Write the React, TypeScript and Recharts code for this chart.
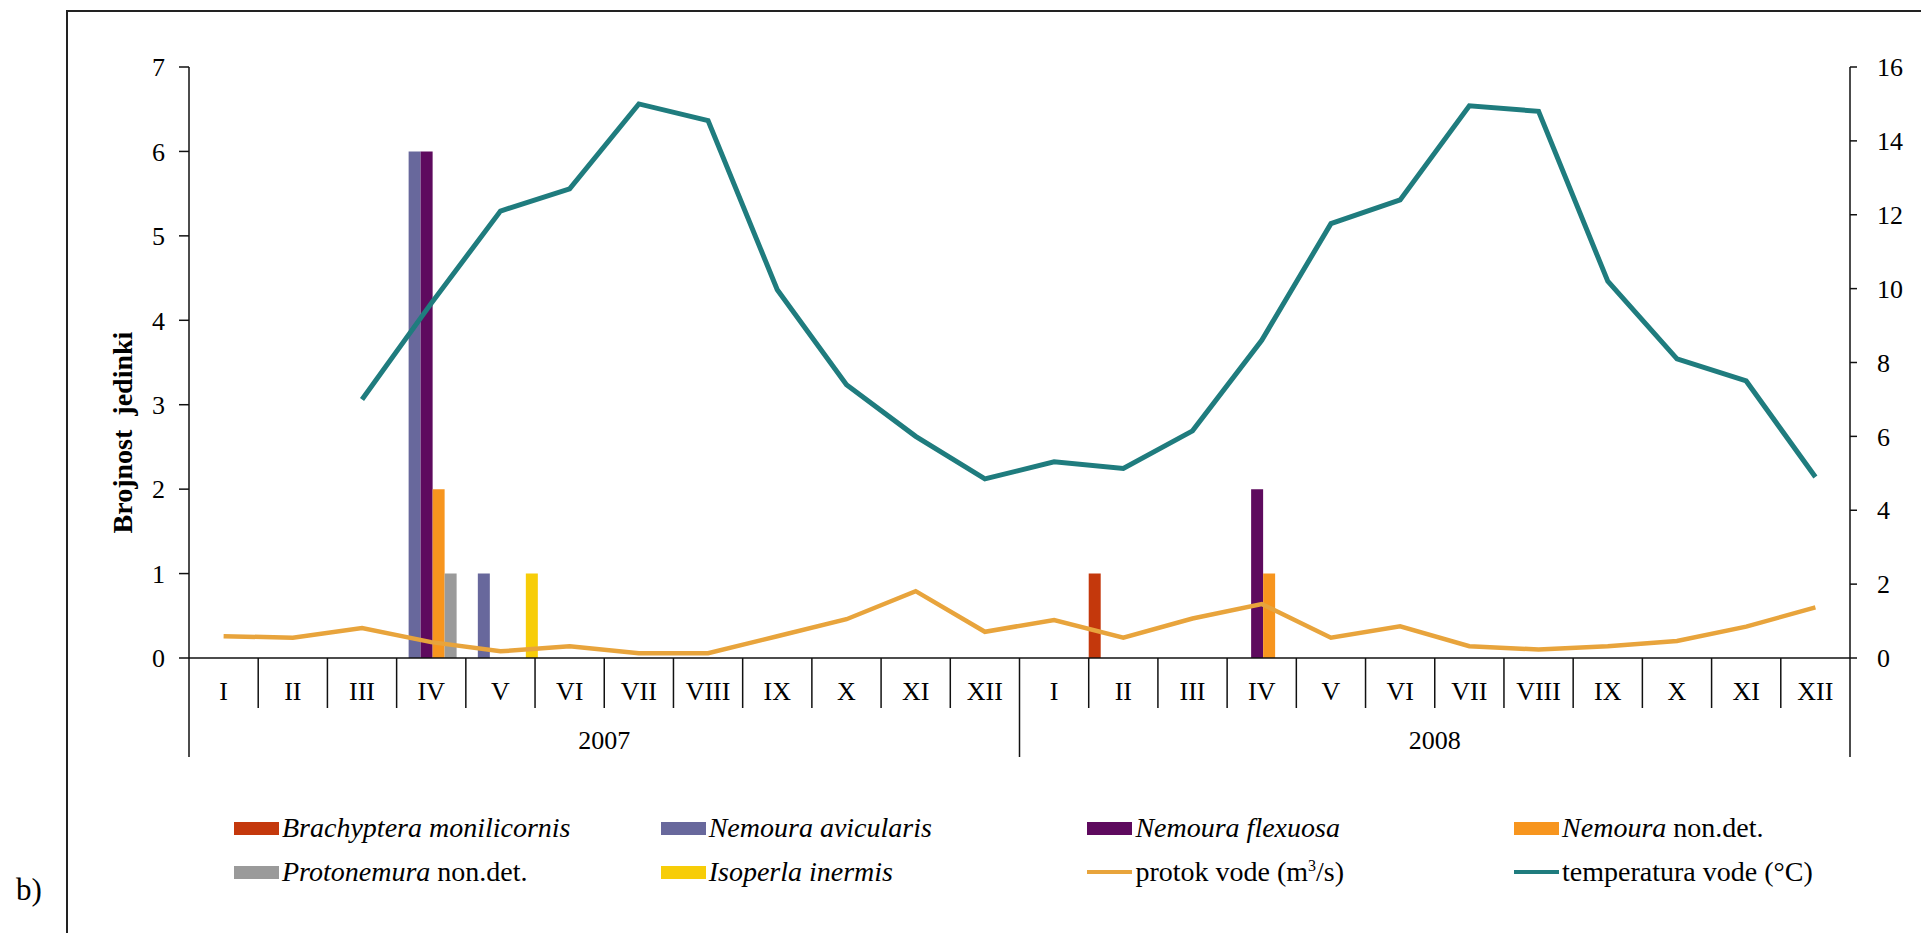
import React from 'react';
import { ComposedChart, Bar, Line, XAxis, YAxis } from 'recharts';

// months of the two sampling years
const MONTHS = ['I', 'II', 'III', 'IV', 'V', 'VI', 'VII', 'VIII', 'IX', 'X', 'XI', 'XII',
  'I', 'II', 'III', 'IV', 'V', 'VI', 'VII', 'VIII', 'IX', 'X', 'XI', 'XII'];
const YEARS = ['2007', '2008'];

// number of individuals per species
const BRACHYPTERA = [null, null, null, null, null, null, null, null, null, null, null, null,
  null, 1, null, null, null, null, null, null, null, null, null, null];
const N_AVICULARIS = [null, null, null, 6, 1, null, null, null, null, null, null, null,
  null, null, null, null, null, null, null, null, null, null, null, null];
const N_FLEXUOSA = [null, null, null, 6, null, null, null, null, null, null, null, null,
  null, null, null, 2, null, null, null, null, null, null, null, null];
const NEMOURA_ND = [null, null, null, 2, null, null, null, null, null, null, null, null,
  null, null, null, 1, null, null, null, null, null, null, null, null];
const PROTONEMURA_ND = [null, null, null, 1, null, null, null, null, null, null, null, null,
  null, null, null, null, null, null, null, null, null, null, null, null];
const ISOPERLA = [null, null, null, null, 1, null, null, null, null, null, null, null,
  null, null, null, null, null, null, null, null, null, null, null, null];

// water discharge (m3/s) and water temperature (°C), right axis
const FLOW = [0.59, 0.55, 0.81, 0.43, 0.18, 0.32, 0.13, 0.13, 0.59, 1.05, 1.81, 0.71,
  1.03, 0.55, 1.07, 1.46, 0.55, 0.86, 0.32, 0.23, 0.32, 0.46, 0.85, 1.37];
const TEMPERATURE = [null, null, 7.0, 9.6, 12.1, 12.7, 15.0, 14.55, 9.97, 7.4, 6.0, 4.85,
  5.31, 5.13, 6.15, 8.6, 11.76, 12.4, 14.95, 14.8, 10.2, 8.1, 7.5, 4.9];

const LEFT_TICKS = [0, 1, 2, 3, 4, 5, 6, 7];
const RIGHT_TICKS = [0, 2, 4, 6, 8, 10, 12, 14, 16];

const BAR_KEYS = ['brachyptera', 'avicularis', 'flexuosa', 'nemouraNd', 'protonemuraNd', 'isoperla'];
// [italic part, roman part]
const BAR_NAMES = [
  ['Brachyptera monilicornis', ''],
  ['Nemoura avicularis', ''],
  ['Nemoura flexuosa', ''],
  ['Nemoura', ' non.det.'],
  ['Protonemura', ' non.det.'],
  ['Isoperla inermis', ''],
];
const LINE_NAMES = ['protok vode (m³/s)', 'temperatura vode (°C)'];

const BAR_COLORS = ['#C4380C', '#68689C', '#5E0A5E', '#F7951E', '#9A9A9A', '#F7CD08'];
const FLOW_COLOR = '#E8A43C';
const TEMP_COLOR = '#1F7C7E';

const FONT = '"Liberation Serif", "Times New Roman", serif';

const data = MONTHS.map((m, i) => ({
  month: m,
  brachyptera: BRACHYPTERA[i],
  avicularis: N_AVICULARIS[i],
  flexuosa: N_FLEXUOSA[i],
  nemouraNd: NEMOURA_ND[i],
  protonemuraNd: PROTONEMURA_ND[i],
  isoperla: ISOPERLA[i],
  flow: FLOW[i],
  temperature: TEMPERATURE[i],
}));

const W = 1921;
const H = 933;
const MARGIN = { top: 67, right: 11, bottom: 175, left: 109 };
const LEFT_AXIS_W = 80;
const RIGHT_AXIS_W = 60;
const PLOT_W = W - MARGIN.left - MARGIN.right - LEFT_AXIS_W - RIGHT_AXIS_W;
const HALF_BAND = PLOT_W / MONTHS.length / 2;

const MonthTick = (props: any) => {
  const { x, y, payload, index } = props;
  const left = x - HALF_BAND;
  const yearStart = index % 12 === 0;
  return (
    <g>
      <line x1={left} y1={y} x2={left} y2={y + (yearStart ? 99 : 50)} stroke="#111" strokeWidth={1.5} />
      {index === MONTHS.length - 1 && (
        <line x1={x + HALF_BAND} y1={y} x2={x + HALF_BAND} y2={y + 99} stroke="#111" strokeWidth={1.5} />
      )}
      <text x={x} y={y + 42} textAnchor="middle" fontSize={26} fontFamily={FONT} fill="#000">
        {payload.value}
      </text>
      {index % 12 === 5 && (
        <text x={x + HALF_BAND} y={y + 91} textAnchor="middle" fontSize={26} fontFamily={FONT} fill="#000">
          {YEARS[Math.floor(index / 12)]}
        </text>
      )}
    </g>
  );
};

const AxisTitle = (props: any) => {
  const { viewBox } = props;
  const cx = viewBox.x + 13;
  const cy = viewBox.y + viewBox.height / 2 + 70;
  return (
    <text
      x={cx}
      y={cy}
      transform={`rotate(-90, ${cx}, ${cy})`}
      textAnchor="middle"
      dominantBaseline="central"
      fontSize={28}
      fontWeight="bold"
      fontFamily={FONT}
      fill="#000"
      style={{ whiteSpace: 'pre' }}
    >
      {'Brojnost\u00A0\u00A0jedinki'}
    </text>
  );
};

const LegendItem: React.FC<{ col: number; row: number; color: string; line?: boolean; children: React.ReactNode }> = ({
  col,
  row,
  color,
  line,
  children,
}) => (
  <div
    style={{
      position: 'absolute',
      left: 234 + col * 426.7,
      top: (row === 0 ? 828 : 872) - 20,
      height: 40,
      display: 'flex',
      alignItems: 'center',
      whiteSpace: 'nowrap',
    }}
  >
    <div style={{ width: 45, height: line ? 4 : 13, background: color }} />
    <span style={{ marginLeft: 3, fontFamily: FONT, fontSize: 28, lineHeight: 1, color: '#000' }}>{children}</span>
  </div>
);

const App: React.FC = () => {
  const legendEntries = [
    ...BAR_NAMES.map((n, i) => ({
      label: (
        <>
          <i>{n[0]}</i>
          {n[1]}
        </>
      ),
      color: BAR_COLORS[i],
      line: false,
    })),
    {
      label: (
        <>
          {LINE_NAMES[0].split('³')[0]}
          <sup style={{ fontSize: 16 }}>3</sup>
          {LINE_NAMES[0].split('³')[1]}
        </>
      ),
      color: FLOW_COLOR,
      line: true,
    },
    { label: <>{LINE_NAMES[1]}</>, color: TEMP_COLOR, line: true },
  ];

  return (
    <div style={{ position: 'absolute', left: 0, top: 0, width: W, height: H, background: '#fff', overflow: 'hidden' }}>
      <div
        style={{
          position: 'absolute',
          left: 66,
          top: 10,
          width: W - 66,
          height: H - 10,
          borderLeft: '2px solid #222',
          borderTop: '2px solid #222',
          boxSizing: 'border-box',
        }}
      />
      <div style={{ position: 'absolute', left: 16, top: 874, fontFamily: FONT, fontSize: 31, lineHeight: 1 }}>b)</div>

      <div style={{ position: 'absolute', left: 0, top: 0 }}>
        <ComposedChart width={W} height={H} data={data} margin={MARGIN} barCategoryGap={0} barGap={0}>
          <XAxis
            dataKey="month"
            interval={0}
            height={100}
            tickLine={false}
            tickSize={0}
            tickMargin={0}
            axisLine={{ stroke: '#111', strokeWidth: 1.5 }}
            tick={<MonthTick />}
          />
          <YAxis
            yAxisId="left"
            width={LEFT_AXIS_W}
            domain={[0, 7]}
            ticks={LEFT_TICKS}
            tickSize={10}
            tickMargin={14}
            axisLine={{ stroke: '#111', strokeWidth: 1.5 }}
            tickLine={{ stroke: '#111', strokeWidth: 1.5 }}
            tick={{ fill: '#000', fontSize: 26, fontFamily: FONT }}
            label={<AxisTitle />}
          />
          <YAxis
            yAxisId="right"
            orientation="right"
            width={RIGHT_AXIS_W}
            domain={[0, 16]}
            ticks={RIGHT_TICKS}
            tickSize={7}
            tickMargin={20}
            axisLine={{ stroke: '#111', strokeWidth: 1.5 }}
            tickLine={{ stroke: '#111', strokeWidth: 1.5 }}
            tick={{ fill: '#000', fontSize: 26, fontFamily: FONT, textAnchor: 'start' }}
          />
          {BAR_KEYS.map((k, i) => (
            <Bar key={k} yAxisId="left" dataKey={k} fill={BAR_COLORS[i]} isAnimationActive={false} />
          ))}
          <Line
            yAxisId="right"
            type="linear"
            dataKey="flow"
            stroke={FLOW_COLOR}
            strokeWidth={4.5}
            dot={false}
            activeDot={false}
            isAnimationActive={false}
          />
          <Line
            yAxisId="right"
            type="linear"
            dataKey="temperature"
            stroke={TEMP_COLOR}
            strokeWidth={5}
            dot={false}
            activeDot={false}
            isAnimationActive={false}
          />
        </ComposedChart>
      </div>

      {legendEntries.map((e, idx) => (
        <LegendItem key={idx} col={idx % 4} row={Math.floor(idx / 4)} color={e.color} line={e.line}>
          {e.label}
        </LegendItem>
      ))}
    </div>
  );
};

export default App;
